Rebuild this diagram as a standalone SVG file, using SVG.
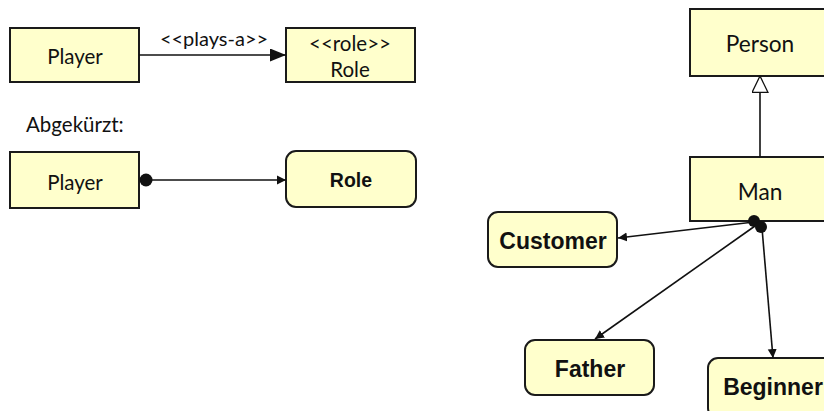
<svg xmlns="http://www.w3.org/2000/svg" width="824" height="411" viewBox="0 0 824 411">
<style>
.box{fill:#ffffcc;stroke:#1a1a1a;stroke-width:2}
.t{font-family:Lato,"Liberation Sans",sans-serif;fill:#111;text-anchor:middle}
.b{font-family:"Liberation Sans",Arial,sans-serif;font-weight:bold;fill:#111;text-anchor:middle}
.ln{stroke:#111;stroke-width:1.6;fill:none}
</style>
<defs>
<marker id="big" markerUnits="userSpaceOnUse" markerWidth="17" markerHeight="13" refX="16" refY="6.5" orient="auto">
<path d="M0,0 L16,6.5 L0,13 z" fill="#111"/>
</marker>
<marker id="small" markerUnits="userSpaceOnUse" markerWidth="10" markerHeight="10" refX="9" refY="5" orient="auto">
<path d="M0,0.5 L9,5 L0,9.5 z" fill="#111"/>
</marker>
<marker id="gen" markerUnits="userSpaceOnUse" markerWidth="18" markerHeight="18" refX="17" refY="8.5" orient="auto">
<path d="M0.5,0.5 L17,8.5 L0.5,16.5 z" fill="#fff" stroke="#111" stroke-width="1.3"/>
</marker>
</defs>
<g id="player1"><rect class="box" x="10" y="28" width="129" height="54"/><text class="t" x="75" y="64" font-size="20.5">Player</text></g>
<g id="label-plays"><text class="t" x="214" y="46" font-size="20">&lt;&lt;plays-a&gt;&gt;</text></g>
<g id="role1"><rect class="box" x="286" y="28" width="129" height="54"/><text class="t" x="350" y="51" font-size="20.5">&lt;&lt;role&gt;&gt;</text><text class="t" x="350" y="77" font-size="20.5">Role</text></g>
<g id="abgekuerzt"><text x="26" y="132" font-family="Lato,'Liberation Sans',sans-serif" font-size="20.5" fill="#111">Abgekürzt:</text></g>
<g id="player2"><rect class="box" x="10" y="152" width="129" height="56"/><text class="t" x="75" y="190" font-size="20.5">Player</text></g>
<g id="role2"><rect class="box" x="286" y="151" width="130" height="56" rx="10"/><text class="b" x="351" y="187" font-size="19.5">Role</text></g>
<g id="person"><rect class="box" x="690" y="9" width="140" height="67"/><text class="t" x="760" y="52" font-size="22.7">Person</text></g>
<g id="man"><rect class="box" x="690" y="157" width="140" height="64"/><text class="t" x="760" y="200" font-size="22.7">Man</text></g>
<g id="customer"><rect class="box" x="488" y="212" width="129" height="55" rx="10"/><text class="b" x="553" y="249" font-size="23">Customer</text></g>
<g id="father"><rect class="box" x="525" y="340" width="129" height="55" rx="10"/><text class="b" x="590" y="377" font-size="23">Father</text></g>
<g id="beginner"><rect class="box" x="708" y="358" width="130" height="60" rx="10"/><text class="b" x="773" y="395" font-size="23">Beginner</text></g>
<g id="connectors">
<line class="ln" x1="139" y1="55" x2="286" y2="55" marker-end="url(#big)"/>
<line class="ln" x1="146" y1="180" x2="286" y2="180" marker-end="url(#small)"/>
<circle cx="146" cy="180" r="6.5" fill="#111"/>
<line class="ln" x1="760" y1="157" x2="760" y2="76" marker-end="url(#gen)"/>
<line class="ln" x1="754" y1="222" x2="618" y2="238" marker-end="url(#small)"/>
<line class="ln" x1="755" y1="226" x2="595" y2="339" marker-end="url(#small)"/>
<line class="ln" x1="762" y1="228" x2="773" y2="358" marker-end="url(#small)"/>
<circle cx="754" cy="221" r="6" fill="#111"/>
<circle cx="761" cy="227" r="6" fill="#111"/>
</g>
</svg>
